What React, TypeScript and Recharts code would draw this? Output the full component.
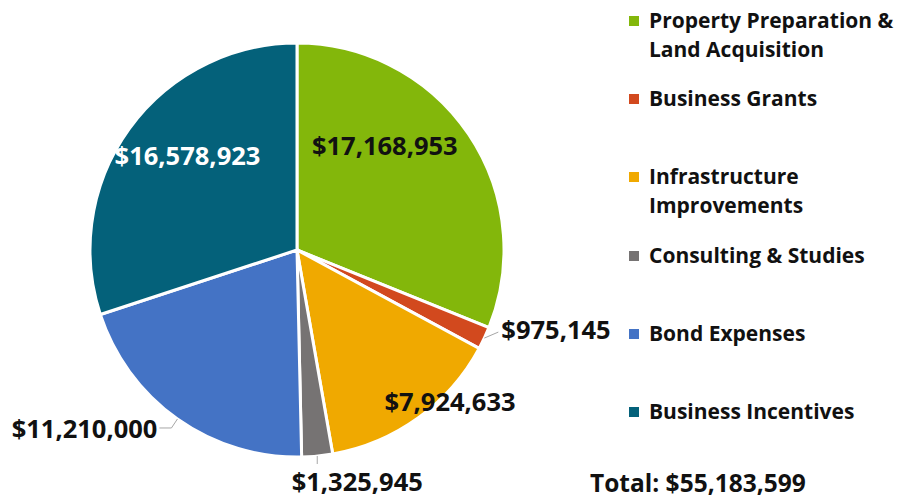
import { PieChart, Pie, Cell, Legend } from "recharts";

const CATEGORIES = [
  "Property Preparation & Land Acquisition",
  "Business Grants",
  "Infrastructure Improvements",
  "Consulting & Studies",
  "Bond Expenses",
  "Business Incentives",
];
const VALUES = [17168953, 975145, 7924633, 1325945, 11210000, 16578923];
const LEGEND_LINES = [
  ["Property Preparation &", "Land Acquisition"],
  ["Business Grants"],
  ["Infrastructure", "Improvements"],
  ["Consulting & Studies"],
  ["Bond Expenses"],
  ["Business Incentives"],
];
const TOTAL_LABEL = "Total: $55,183,599";

const COLORS = ["#83B70B", "#D2491E", "#F0A900", "#767373", "#4473C5", "#04617A"];
const FONT = "'Open Sans', 'Noto Sans', sans-serif";

// inside labels: radius factor + angle shift; outside labels: leader offsets
const LABEL_CFG: Record<number, any> = {
  0: { kind: "in", r: 0.66, shift: 16, fill: "#111" },
  1: { kind: "out", d1: [14, -6], d2: [0, 0], anchor: "start", tx: 3, ty: -3 },
  2: { kind: "in", r: 1.04, shift: 9.5, fill: "#111" },
  3: { kind: "out", d1: [0, 8], d2: [0, 0], anchor: "middle", tx: 40, ty: 17 },
  4: { kind: "out", d1: [-6, 9], d2: [-12, 0], anchor: "end", tx: -2, ty: 0 },
  5: { kind: "in", r: 0.7, shift: -5, fill: "#fff" },
};

const RAD = Math.PI / 180;
const fmt = (v: number) => "$" + v.toLocaleString("en-US");

const data = CATEGORIES.map((name, i) => ({ name, value: VALUES[i] }));

function renderLabel(props: any) {
  const { cx, cy, midAngle, outerRadius, index, value } = props;
  const cfg = LABEL_CFG[index];
  const style = { fontFamily: FONT, fontWeight: 700, fontSize: 25.5 };
  if (cfg.kind === "in") {
    const a = (midAngle + cfg.shift) * RAD;
    const r = outerRadius * cfg.r;
    return (
      <text
        x={cx + r * Math.cos(a)}
        y={cy - r * Math.sin(a)}
        textAnchor="middle"
        dominantBaseline="central"
        fill={cfg.fill}
        style={style}
      >
        {fmt(value)}
      </text>
    );
  }
  const a = midAngle * RAD;
  const x0 = cx + outerRadius * Math.cos(a);
  const y0 = cy - outerRadius * Math.sin(a);
  const x1 = x0 + cfg.d1[0];
  const y1 = y0 + cfg.d1[1];
  const x2 = x1 + cfg.d2[0];
  const y2 = y1 + cfg.d2[1];
  return (
    <g>
      <polyline
        points={`${x0},${y0} ${x1},${y1} ${x2},${y2}`}
        fill="none"
        stroke="#A6A6A6"
        strokeWidth={1}
      />
      <text
        x={x2 + cfg.tx}
        y={y2 + cfg.ty}
        textAnchor={cfg.anchor}
        dominantBaseline="central"
        fill="#111"
        style={style}
      >
        {fmt(value)}
      </text>
    </g>
  );
}

function LegendBox() {
  return (
    <div style={{ fontFamily: FONT, fontWeight: 700, fontSize: 21, color: "#111" }}>
      {LEGEND_LINES.map((lines, i) => (
        <div key={i} style={{ position: "relative", height: 78.2 }}>
          <div
            style={{
              position: "absolute",
              left: 0,
              top: 10,
              width: 10,
              height: 10,
              background: COLORS[i],
            }}
          />
          <div style={{ position: "absolute", left: 20, top: 0, lineHeight: "29px" }}>
            {lines.map((l) => (
              <div key={l}>{l}</div>
            ))}
          </div>
        </div>
      ))}
    </div>
  );
}

export default function App() {
  return (
    <div style={{ position: "absolute", left: 0, top: 0, width: 899, height: 499, background: "#fff" }}>
      <PieChart width={899} height={499} margin={{ top: 0, right: 0, bottom: 0, left: 0 }}>
        <Pie
          data={data}
          dataKey="value"
          nameKey="name"
          cx={297}
          cy={250}
          outerRadius={207}
          startAngle={90}
          endAngle={-270}
          stroke="#fff"
          strokeWidth={3}
          label={renderLabel}
          labelLine={false}
          isAnimationActive={false}
        >
          {data.map((_, i) => (
            <Cell key={i} fill={COLORS[i]} />
          ))}
        </Pie>
        <Legend
          content={() => <LegendBox />}
          wrapperStyle={{ position: "absolute", left: 629, top: 6, width: 270 }}
        />
      </PieChart>
      <div
        style={{
          position: "absolute",
          left: 590,
          top: 466,
          fontFamily: FONT,
          fontWeight: 700,
          fontSize: 24.5,
          color: "#111",
          whiteSpace: "nowrap",
        }}
      >
        {TOTAL_LABEL}
      </div>
    </div>
  );
}
